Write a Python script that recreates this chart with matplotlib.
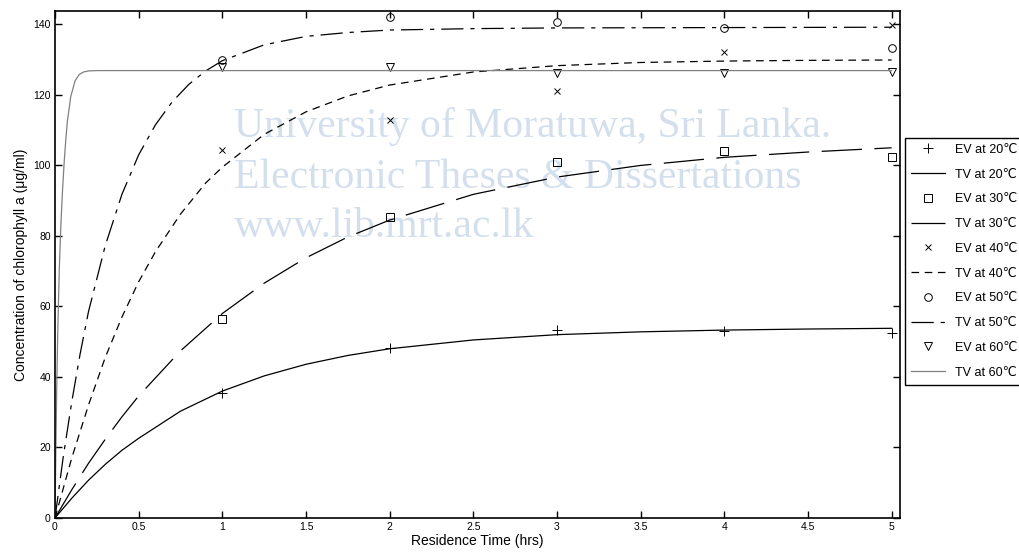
import numpy as np
import matplotlib
matplotlib.use("Agg")
import matplotlib.pyplot as plt

plt.rcParams['font.family'] = ['Liberation Sans', 'DejaVu Sans']
plt.rcParams['lines.scale_dashes'] = False

# ---- experimental values (EV) ----
t_ev = [1, 2, 3, 4, 5]
ev_20 = [35.5, 48.1, 53.3, 53.1, 52.4]
ev_30 = [56.5, 85.5, 101.0, 104.0, 102.5]
ev_40 = [104.5, 113.0, 121.0, 132.2, 139.7]
ev_50 = [130.0, 142.2, 140.8, 139.0, 133.4]
ev_60 = [128.0, 128.0, 126.1, 126.3, 126.5]

# ---- theoretical values (TV) ----
t_tv_20 = [0, 0.1, 0.2, 0.3, 0.4, 0.5, 0.75, 1.0, 1.25, 1.5, 1.75, 2.0, 2.5, 3.0, 3.5, 4.0, 4.5, 5.0]
tv_20 = [0, 5.6, 10.7, 15.2, 19.2, 22.6, 30.3, 36.0, 40.3, 43.6, 46.1, 48.0, 50.5, 52.0, 52.8, 53.3, 53.6, 53.8]

t_tv_30 = [0, 0.1, 0.2, 0.3, 0.4, 0.5, 0.75, 1.0, 1.25, 1.5, 1.75, 2.0, 2.5, 3.0, 3.5, 4.0, 4.5, 5.0]
tv_30 = [0, 8.0, 15.5, 22.3, 28.7, 34.6, 47.4, 58.0, 66.6, 73.8, 79.7, 84.5, 91.8, 96.7, 100.0, 102.3, 103.8, 105.0]

t_tv_40 = [0, 0.1, 0.2, 0.3, 0.4, 0.5, 0.6, 0.75, 0.9, 1.0, 1.25, 1.5, 1.75, 2.0, 2.5, 3.0, 3.5, 4.0, 4.5, 5.0]
tv_40 = [0, 17.0, 32.0, 45.5, 57.0, 67.0, 75.5, 86.2, 95.0, 99.5, 108.8, 115.2, 119.7, 122.8, 126.5, 128.3, 129.2, 129.6, 129.8, 129.9]

t_tv_50 = [0, 0.05, 0.1, 0.15, 0.2, 0.3, 0.4, 0.5, 0.6, 0.7, 0.8, 0.9, 1.0, 1.25, 1.5, 1.75, 2.0, 2.5, 3.0, 4.0, 5.0]
tv_50 = [0, 17.6, 32.9, 46.5, 58.5, 77.2, 91.8, 103.0, 111.5, 118.0, 123.0, 126.8, 129.7, 134.2, 136.6, 137.7, 138.4, 138.8, 139.0, 139.1, 139.2]

t_tv_60 = [0, 0.005, 0.01, 0.015, 0.02, 0.026, 0.035, 0.045, 0.055, 0.064, 0.074, 0.094, 0.12, 0.145, 0.17, 0.2, 0.25, 5.0]
tv_60 = [0, 19.0, 36.0, 49.0, 60.0, 71.0, 83.0, 93.0, 101.0, 107.0, 112.5, 119.5, 124.0, 125.8, 126.5, 126.8, 126.9, 126.9]

fig = plt.figure(figsize=(10.2, 5.57), dpi=100)
ax = fig.add_axes([55/1020, 1 - 518/557, 845/1020, 507/557])

# watermark text behind the data
wm_kw = dict(transform=fig.transFigure, family='Liberation Serif', fontsize=30,
             color='#d4dfed', va='baseline', ha='left', zorder=0.5)
ax.text(234/1020, 1 - 137/557, 'University of Moratuwa, Sri Lanka.', **wm_kw)
ax.text(234/1020, 1 - 188/557, 'Electronic Theses & Dissertations', **wm_kw)
ax.text(234/1020, 1 - 237/557, 'www.lib.mrt.ac.lk', **wm_kw)

mk = dict(linestyle='none', color='k', markerfacecolor='none', markeredgewidth=0.7)
lw = 0.9

ax.plot(t_ev, ev_20, marker='+', markersize=7, label='EV at 20\u2103', **mk)
ax.plot(t_tv_20, tv_20, color='k', lw=lw, label='TV at 20\u2103')
ax.plot(t_ev, ev_30, marker='s', markersize=5.5, label='EV at 30\u2103', **mk)
ax.plot(t_tv_30, tv_30, color='k', lw=lw, linestyle=(0, (29, 9)), label='TV at 30\u2103')
ax.plot(t_ev, ev_40, marker='x', markersize=4.5, label='EV at 40\u2103', **mk)
ax.plot(t_tv_40, tv_40, color='k', lw=lw, linestyle=(0, (5.5, 4)), label='TV at 40\u2103')
ax.plot(t_ev, ev_50, marker='o', markersize=5.5, label='EV at 50\u2103', **mk)
ax.plot(t_tv_50, tv_50, color='k', lw=lw, linestyle=(0, (16, 5, 3, 5)), label='TV at 50\u2103')
ax.plot(t_ev, ev_60, marker='v', markersize=6, label='EV at 60\u2103', **mk)
ax.plot(t_tv_60, tv_60, color='#808080', lw=lw, label='TV at 60\u2103')

ax.set_xlim(0, 5.05)
ax.set_ylim(0, 143.8)
ax.set_xticks(np.arange(0, 5.01, 0.5))
ax.set_xticklabels(['0', '0.5', '1', '1.5', '2', '2.5', '3', '3.5', '4', '4.5', '5'])
ax.set_yticks(np.arange(0, 141, 20))
ax.tick_params(direction='in', length=5, width=1, top=True, right=True,
               labelsize=7.5, pad=3)
for s in ax.spines.values():
    s.set_linewidth(1.2)

ax.set_xlabel('Residence Time (hrs)', fontsize=10, labelpad=1)
ax.set_ylabel('Concentration of chlorophyll a (\u03bcg/ml)', fontsize=10, labelpad=4)

leg = ax.legend(loc='upper left', bbox_to_anchor=(905/1020, 1 - 137.5/557),
                bbox_transform=fig.transFigure, borderaxespad=0, fontsize=9,
                fancybox=False, framealpha=1, edgecolor='k', handlelength=2.7,
                handletextpad=0.8, labelspacing=1.02, borderpad=0.5)
leg.get_frame().set_linewidth(1.0)

fig.savefig('out.png', dpi=100)
